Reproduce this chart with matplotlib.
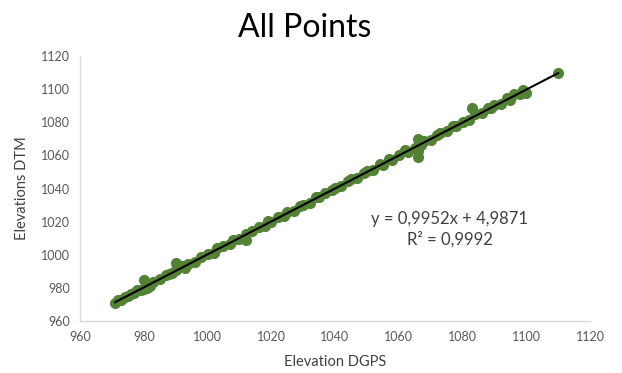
import matplotlib

matplotlib.use("agg")

import matplotlib.pyplot as plt

# points (DGPS vs DTM elevation)
x_dgps = [971, 972, 973, 974, 975, 976, 977, 978, 979, 980,
          980, 981, 982, 983, 985, 987, 988, 989, 990, 990,
          991, 992, 993, 994, 996, 998, 1000, 1002, 1003, 1005,
          1007, 1008, 1010, 1012, 1012, 1014, 1016, 1018, 1019, 1020,
          1022, 1024, 1025, 1027, 1029, 1030, 1032, 1034, 1035, 1037,
          1039, 1040, 1042, 1044, 1045, 1047, 1049, 1050, 1052, 1054,
          1055, 1057, 1058, 1060, 1062, 1063, 1065, 1066, 1066, 1066,
          1067, 1068, 1070, 1072, 1073, 1075, 1077, 1078, 1080, 1082,
          1083, 1084, 1086, 1088, 1089, 1090, 1092, 1094, 1095, 1096,
          1098, 1099, 1100, 1110]
y_dtm = [970.6, 972.4, 972.8, 974.5, 975.3, 976.6, 977.2, 978.9, 978.5, 984.6,
         979.4, 980.2, 981.1, 983.8, 985.4, 987.6, 988.3, 989.2, 995.3, 990.9,
         992.6, 993.4, 992.1, 994.6, 995.8, 998.7, 1000.4, 1001.3, 1003.9, 1005.2,
         1006.4, 1008.8, 1009.6, 1008.9, 1012.5, 1014.2, 1016.9, 1017.4, 1020.1, 1019.6,
         1022.8, 1023.5, 1025.6, 1026.7, 1029.5, 1030.3, 1031.2, 1034.6, 1035.1, 1037.4,
         1038.8, 1040.5, 1041.7, 1044.3, 1045.8, 1046.6, 1049.2, 1050.7, 1051.4, 1054.5,
         1054.2, 1057.8, 1057.3, 1060.4, 1063.5, 1062.1, 1064.6, 1069.8, 1058.9, 1062.5,
         1066.4, 1068.9, 1069.4, 1072.6, 1073.3, 1074.6, 1077.8, 1077.5, 1080.2, 1081.6,
         1088.4, 1084.7, 1085.3, 1088.5, 1088.6, 1090.4, 1091.2, 1094.6, 1093.4, 1096.8,
         1096.9, 1099.5, 1097.8, 1109.8]
assert len(x_dgps) == len(y_dtm)

# trendline as printed on the chart
slope = 0.9952
intercept = 4.9871
r_squared = 0.9992

ticks = [960, 980, 1000, 1020, 1040, 1060, 1080, 1100, 1120]

GREEN = "#548235"
AXIS_GREY = "#d9d9d9"
TICK_GREY = "#595959"
TEXT_GREY = "#404040"

plt.rcParams["font.family"] = ["Lato", "DejaVu Sans"]

fig = plt.figure(figsize=(6.22, 3.73), dpi=100)
ax = fig.add_axes((80 / 622, 52 / 373, 510 / 622, 265 / 373))

ax.plot(x_dgps, y_dtm, linestyle="none", marker="o", markersize=8,
        color=GREEN, markeredgewidth=0, zorder=2)

x0, x1 = min(x_dgps), max(x_dgps)
ax.plot([x0, x1], [slope * x0 + intercept, slope * x1 + intercept],
        color="black", linewidth=1.5, zorder=3)

ax.set_xlim(ticks[0], ticks[-1])
ax.set_ylim(ticks[0], ticks[-1])
ax.set_xticks(ticks)
ax.set_yticks(ticks)
ax.tick_params(length=0, labelsize=9, labelcolor=TICK_GREY, pad=7)

for side in ("top", "right"):
    ax.spines[side].set_visible(False)
for side in ("left", "bottom"):
    ax.spines[side].set_color(AXIS_GREY)
    ax.spines[side].set_linewidth(1.0)

ax.set_xlabel("Elevation DGPS", fontsize=10.5, color=TEXT_GREY, labelpad=9)
ax.set_ylabel("Elevations DTM", fontsize=10.5, color=TEXT_GREY, labelpad=9)
fig.text(0.49, 0.925, "All Points", fontsize=23, ha="center", va="center",
         color="black")

eq = "y = %sx + %s\nR² = %s" % (
    ("%.4f" % slope).replace(".", ","),
    ("%.4f" % intercept).replace(".", ","),
    ("%.4f" % r_squared).replace(".", ","))
ax.text(1076, 1015.5, eq, fontsize=12, color=TEXT_GREY, ha="center",
        va="center", linespacing=1.3)

fig.savefig("out.png", dpi=100)
